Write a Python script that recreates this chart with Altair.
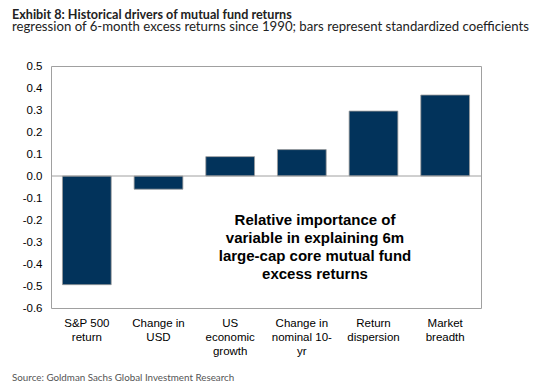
import altair as alt
import pandas as pd

categories = ["S&P 500\nreturn", "Change in\nUSD", "US\neconomic\ngrowth",
              "Change in\nnominal 10-\nyr", "Return\ndispersion", "Market\nbreadth"]
values = [-0.494, -0.06, 0.088, 0.12, 0.295, 0.368]
y_ticks = [0.5, 0.4, 0.3, 0.2, 0.1, 0.0, -0.1, -0.2, -0.3, -0.4, -0.5, -0.6]

title = "Exhibit 8: Historical drivers of mutual fund returns"
subtitle = "regression of 6-month excess returns since 1990; bars represent standardized coefficients"
source = "Source: Goldman Sachs Global Investment Research"
annotation = ["Relative importance of", "variable in explaining 6m",
              "large-cap core mutual fund", "excess returns"]

df = pd.DataFrame({"cat": categories, "val": values})

x_enc = alt.X("cat:N", sort=categories, title=None,
              scale=alt.Scale(paddingInner=0.32, paddingOuter=0.16),
              axis=alt.Axis(labelExpr="split(datum.label, '\\n')", labelAngle=0,
                            labelFont="Liberation Sans", labelFontSize=11.5,
                            labelColor="#000000", labelLineHeight=14,
                            labelPadding=9, ticks=False, domain=False,
                            labelBaseline="top", labelOverlap=False))

y_scale = alt.Scale(domain=[-0.6, 0.5], nice=False, zero=False)
y_axis = alt.Axis(values=y_ticks, grid=False, ticks=False,
                  labelExpr="(datum.value < -0.001 ? '-' : '') + format(abs(datum.value), '.1f')",
                  labelOverlap=False,
                  domain=False, labelFont="Liberation Sans", labelFontSize=11.5,
                  labelColor="#000000", labelPadding=9)

bars = alt.Chart(df).mark_bar(color="#02335b", stroke="#9a9a9a", strokeWidth=0.8).encode(
    x=x_enc,
    y=alt.Y("val:Q", title=None, scale=y_scale, axis=y_axis),
)

zero = alt.Chart(pd.DataFrame({"val": [0.0]})).mark_rule(color="#a0a0a0", strokeWidth=1).encode(
    y=alt.Y("val:Q", title=None, scale=y_scale, axis=y_axis))

ann = alt.Chart(pd.DataFrame({"t": [annotation]})).mark_text(
    font="Liberation Sans", fontSize=15, fontWeight="bold", color="#000000",
    align="center", baseline="top", lineHeight=18).encode(
    text="t", x=alt.value(264), y=alt.value(147))


def label(txt, py, size, weight, color):
    return alt.Chart(pd.DataFrame({"t": [txt]})).mark_text(
        font="Lato", align="left", baseline="alphabetic", fontSize=size,
        fontWeight=weight, color=color).encode(
        text="t:N", x=alt.value(-39), y=alt.value(py))


t1 = label(title, -47.5, 12.6, "bold", "#222222")
t2 = label(subtitle, -35, 13.2, "normal", "#222222")
t3 = label(source, 315, 9.8, "normal", "#555555")

chart = alt.layer(bars, zero, ann, t1, t2, t3).properties(
    width=430, height=242,
    background="white",
    autosize=alt.AutoSizeParams(type="none"),
    padding={"left": 43, "top": 58, "right": 61, "bottom": 74},
).configure_view(stroke="#a0a0a0", strokeWidth=1)

chart.save("out.html", embed_options={"renderer": "svg", "actions": False})
